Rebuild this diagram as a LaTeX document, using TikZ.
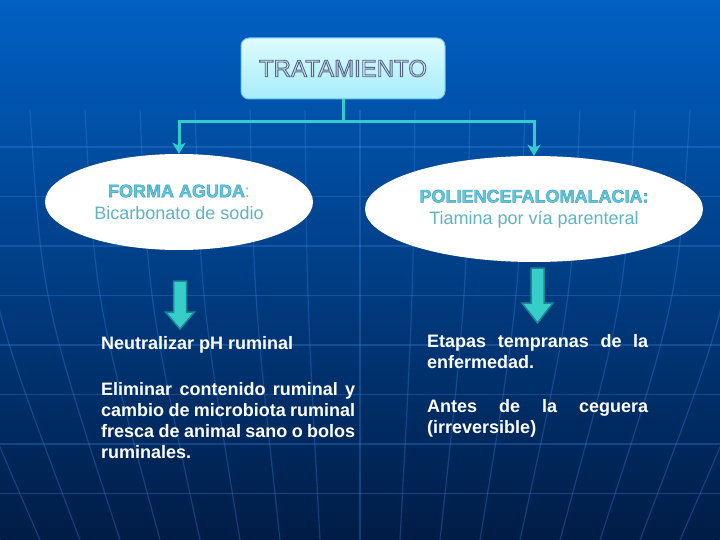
\documentclass[tikz,border=0pt]{standalone}
\usepackage{fontspec}
\setmainfont{Liberation Sans}
\usetikzlibrary{arrows.meta, shapes.geometric, positioning}

\definecolor{bgtop}{RGB}{0,96,196}
\definecolor{bgmid}{RGB}{0,68,150}
\definecolor{bgbot}{RGB}{0,28,70}
\definecolor{gridblue}{RGB}{60,140,235}
\definecolor{linkcyan}{RGB}{51,204,204}
\definecolor{boxtop}{RGB}{222,252,255}
\definecolor{boxbot}{RGB}{165,236,250}
\definecolor{boxline}{RGB}{110,195,230}
\definecolor{trfill}{RGB}{205,232,242}
\definecolor{headcyan}{RGB}{95,200,220}
\definecolor{subcyan}{RGB}{95,180,195}
\definecolor{arrfill}{RGB}{55,205,200}
\definecolor{arrline}{RGB}{25,135,150}

\newcommand{\strokedtext}[3]{\special{pdf:literal direct 2 Tr #1 w #2 RG}#3\special{pdf:literal direct 0 Tr}}

\begin{document}
\begin{tikzpicture}[x=1pt, y=-1pt,
  gridline/.style={draw=gridblue, line width=1.2pt, opacity=0.3},
  link/.style={draw=linkcyan, line width=3pt, -{Stealth[length=11pt, width=13pt, inset=3pt]}},
  bubble/.style={ellipse, fill=white, inner sep=0pt, align=center, font=\fontsize{18}{22}\selectfont},
  blockarr/.style={fill=arrfill, draw=arrline, line width=1.5pt, line join=miter},
  bodytext/.style={text=white, font=\bfseries\fontsize{18}{21}\selectfont, inner sep=0pt, anchor=north west}]

  \fill[top color=bgtop, middle color=bgmid, bottom color=bgbot] (0,0) rectangle (720,540);
  \useasboundingbox (0,0) rectangle (720,540);

  \foreach \y in {147,196.5,...,495} \draw[gridline] (0,\y) -- (720,\y);
  \foreach \k in {-9,...,9} \draw[gridline] ({360+55*\k},110) .. controls ({360+53*\k},300) .. ({360+40*\k},540);

  \node[draw=boxline, line width=1pt, rounded corners=8pt, top color=boxtop, bottom color=boxbot,
        minimum width=204pt, minimum height=61pt, font=\fontsize{24}{28}\selectfont]
        (trat) at (343,68.5) {\textcolor{trfill}{\strokedtext{0.9}{0.333 0.392 0.53}{TRATAMIENTO}}};

  \node[bubble, minimum width=268pt, minimum height=96pt] (forma) at (179,202)
        {\textcolor{headcyan}{\textbf{\strokedtext{0.4}{0.24 0.59 0.71}{FORMA AGUDA}}:}\\
         \textcolor{subcyan}{Bicarbonato de sodio}};
  \node[bubble, minimum width=338pt, minimum height=106pt] (polio) at (534,209)
        {\textcolor{headcyan}{\textbf{\strokedtext{0.4}{0.24 0.59 0.71}{POLIENCEFALOMALACIA:}}}\\
         \textcolor{subcyan}{Tiamina por vía parenteral}};

  \coordinate (split) at (343,122);
  \draw[link] (trat.south) -- (split) -| (forma.north);
  \draw[link] (split) -| (polio.north);

  \draw[blockarr] (173.5,281) -- (186.5,281) -- (186.5,312) -- (194.5,312) -- (180,329)
                  -- (165.5,312) -- (173.5,312) -- cycle;
  \draw[blockarr] (531,268) -- (544,268) -- (544,303) -- (553,303) -- (537.5,323)
                  -- (522,303) -- (531,303) -- cycle;

  \node[bodytext, anchor=base west] (neutral) at (101,349) {Neutralizar pH ruminal};
  \node[bodytext, text width=254pt, align=justify] (elim) at (101,382)
        {Eliminar contenido ruminal y\linebreak cambio de microbiota ruminal\linebreak
         fresca de animal sano o bolos\linebreak ruminales.};
  \node[bodytext, text width=221pt, align=justify] (etapas) at (427,334)
        {Etapas tempranas de la\linebreak enfermedad.};
  \node[bodytext, text width=221pt, align=justify] (antes) at (427,399)
        {Antes de la ceguera\linebreak (irreversible)};
\end{tikzpicture}
\end{document}
